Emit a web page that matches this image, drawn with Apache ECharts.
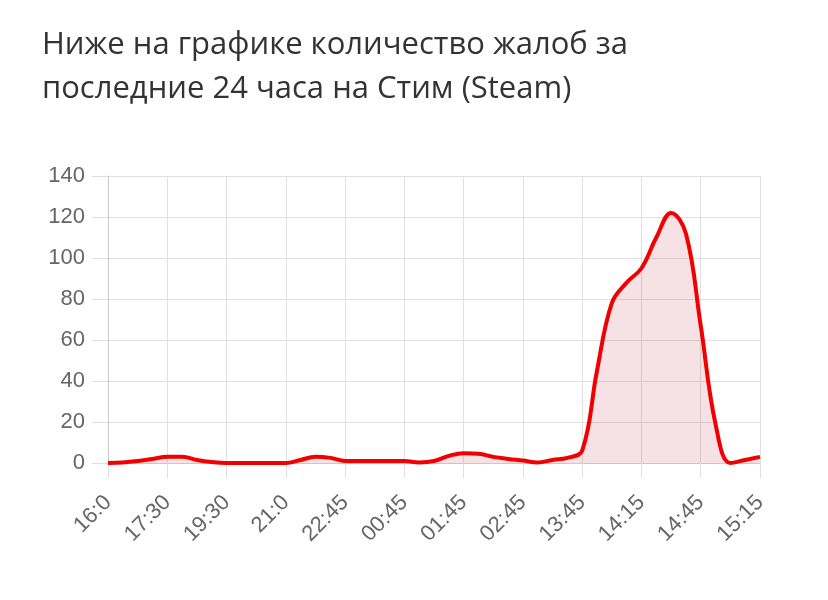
<!DOCTYPE html>
<html>
<head>
<meta charset="utf-8">
<script src="https://cdn.jsdelivr.net/npm/echarts@6/dist/echarts.min.js"></script>
<style>
  html, body { margin: 0; padding: 0; background: #fff; }
  #chart { width: 828px; height: 600px; }
</style>
</head>
<body>
<div id="chart"></div>
<script>
// заголовок
const titleText = 'Ниже на графике количество жалоб за\nпоследние 24 часа на Стим (Steam)'

// время (подписи показываются через 3)
const times = [
  '16:0', '16:15', '16:45', '17:0', '17:30', '18:0', '18:30', '19:0', '19:30',
  '20:0', '20:15', '20:45', '21:0', '21:30', '21:45', '22:15', '22:45',
  '23:15', '23:45', '00:15', '00:45', '01:0', '01:15', '01:30', '01:45',
  '02:0', '02:15', '02:30', '02:45', '03:0', '12:45', '13:15', '13:45',
  '13:52', '14:0', '14:07', '14:15', '14:22', '14:30', '14:37', '14:45',
  '14:52', '15:0', '15:07', '15:15',
]

// количество жалоб
const complaints = [
  0, 0.3, 1, 2, 3, 3, 1.5, 0.5, 0,
  0, 0, 0, 0, 1.5, 3, 2.5, 1,
  1, 1, 1, 1, 0.3, 1, 3.5, 4.8,
  4.5, 3, 2, 1.2, 0.3, 1.5, 2.5, 6,
  45, 78, 88, 95, 110, 122, 112, 67,
  19, 0, 1.5, 3,
]

const yTicks = { min: 0, max: 140, step: 20 }

const chart = echarts.init(document.getElementById('chart'))

const option = {
  animation: false,
  title: {
    text: titleText,
    left: 37,
    top: 18,
    textStyle: {
      fontFamily: 'Open Sans',
      fontSize: 31,
      fontWeight: 'normal',
      color: '#333',
      lineHeight: 44,
    },
  },
  grid: {
    left: 108,
    right: 68,
    top: 176,
    bottom: 137,
    containLabel: false,
  },
  xAxis: {
    type: 'category',
    boundaryGap: false,
    data: times,
    axisLine: { show: true, lineStyle: { color: '#c8c8c8', width: 1 } },
    axisTick: {
      show: true,
      interval: 3,
      length: 15,
      lineStyle: { color: '#dedede' },
    },
    axisLabel: {
      interval: 3,
      rotate: 45,
      margin: 36,
      fontFamily: 'Liberation Sans',
      fontSize: 22,
      color: '#666',
    },
    splitLine: {
      show: true,
      interval: 3,
      lineStyle: { color: '#e0e0e0', width: 1 },
    },
  },
  yAxis: {
    type: 'value',
    min: yTicks.min,
    max: yTicks.max,
    interval: yTicks.step,
    axisLine: { show: true, lineStyle: { color: '#c8c8c8', width: 1 } },
    axisTick: { show: true, length: 16, lineStyle: { color: '#dedede' } },
    axisLabel: {
      margin: 23,
      fontFamily: 'Liberation Sans',
      fontSize: 22,
      color: '#666',
    },
    splitLine: { show: true, lineStyle: { color: '#e0e0e0', width: 1 } },
  },
  series: [
    {
      type: 'line',
      data: complaints,
      smooth: 0.4,
      symbol: 'none',
      lineStyle: { color: '#f00000', width: 4 },
      areaStyle: { color: 'rgba(190, 50, 65, 0.2)' },
    },
  ],
}

chart.setOption(option)
</script>
</body>
</html>
